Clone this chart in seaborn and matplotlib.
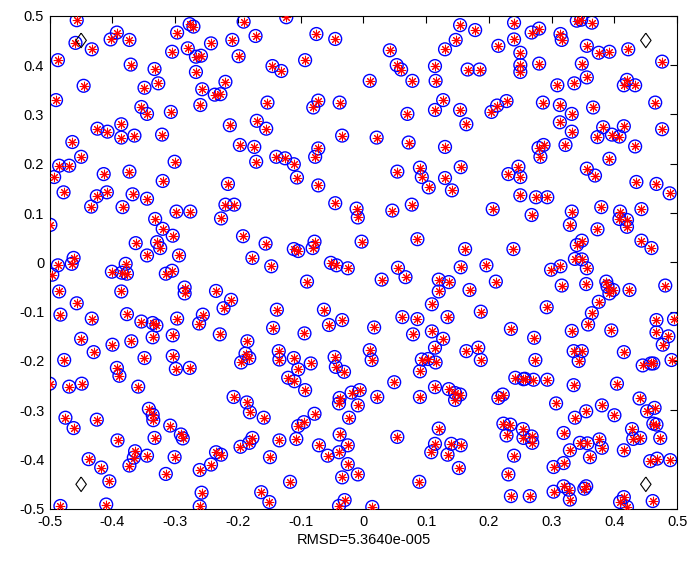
import numpy as np
import pandas as pd
import matplotlib
matplotlib.use("Agg")
import matplotlib.pyplot as plt
import seaborn as sns

sns.set_theme(style="white")
plt.rcParams['font.family'] = ['Liberation Sans', 'DejaVu Sans']

# estimated node positions (top / middle / bottom bands)
top_band = [
    (-0.457, 0.491), (-0.459, 0.445), (-0.433, 0.432), (-0.403, 0.452), (-0.393, 0.466), (-0.373, 0.451),
    (-0.487, 0.410), (-0.371, 0.401), (-0.333, 0.392), (-0.446, 0.358), (-0.349, 0.354), (-0.327, 0.363),
    (-0.490, 0.329), (-0.354, 0.315), (-0.345, 0.301), (-0.307, 0.305), (-0.424, 0.271), (-0.408, 0.265),
    (-0.386, 0.280), (-0.386, 0.253), (-0.365, 0.257), (-0.321, 0.259), (-0.464, 0.244), (-0.450, 0.214),
    (-0.485, 0.196), (-0.469, 0.196), (-0.301, 0.204), (-0.493, 0.173), (-0.414, 0.179), (-0.373, 0.184),
    (-0.320, 0.165), (-0.297, 0.466), (-0.305, 0.427), (-0.280, 0.434), (-0.277, 0.483), (-0.271, 0.478),
    (-0.267, 0.417), (-0.259, 0.419), (-0.267, 0.386), (-0.257, 0.351), (-0.260, 0.319),
    (-0.191, 0.488), (-0.123, 0.497), (-0.243, 0.444), (-0.209, 0.451), (-0.172, 0.459), (-0.075, 0.463),
    (-0.045, 0.453), (-0.199, 0.418), (-0.145, 0.398), (-0.131, 0.388), (-0.093, 0.410), (-0.220, 0.366),
    (-0.237, 0.340), (-0.228, 0.341), (-0.153, 0.324), (-0.072, 0.328), (-0.080, 0.314), (-0.038, 0.324),
    (-0.213, 0.278), (-0.170, 0.287), (-0.155, 0.271), (-0.034, 0.257), (-0.197, 0.238), (-0.174, 0.234),
    (-0.139, 0.214), (-0.125, 0.211), (-0.111, 0.199), (-0.072, 0.231), (-0.077, 0.214), (-0.171, 0.204),
    (-0.106, 0.172),
    (0.154, 0.481), (0.178, 0.471), (0.240, 0.486), (0.240, 0.452), (0.147, 0.451), (0.130, 0.432),
    (0.215, 0.439), (0.250, 0.425), (0.042, 0.430), (0.053, 0.400), (0.060, 0.391), (0.114, 0.398),
    (0.166, 0.391), (0.185, 0.391), (0.250, 0.400), (0.250, 0.386), (0.010, 0.368), (0.078, 0.368),
    (0.115, 0.368), (0.127, 0.329), (0.114, 0.309), (0.154, 0.309), (0.204, 0.305), (0.213, 0.318),
    (0.228, 0.327), (0.070, 0.301), (0.164, 0.280), (0.021, 0.253), (0.072, 0.243), (0.130, 0.234),
    (0.054, 0.184), (0.090, 0.192), (0.093, 0.173), (0.155, 0.193), (0.130, 0.171), (0.231, 0.179),
    (0.247, 0.194), (0.250, 0.173),
    (0.340, 0.490), (0.347, 0.492), (0.364, 0.486), (0.268, 0.466), (0.280, 0.474), (0.314, 0.463),
    (0.316, 0.451), (0.356, 0.439), (0.375, 0.425), (0.392, 0.427), (0.422, 0.432), (0.280, 0.403),
    (0.348, 0.403), (0.476, 0.407), (0.356, 0.375), (0.309, 0.359), (0.336, 0.363), (0.420, 0.370),
    (0.415, 0.359), (0.433, 0.359), (0.286, 0.324), (0.313, 0.319), (0.332, 0.301), (0.366, 0.314),
    (0.465, 0.324), (0.313, 0.284), (0.332, 0.265), (0.382, 0.274), (0.373, 0.254), (0.396, 0.259),
    (0.408, 0.255), (0.415, 0.276), (0.476, 0.270), (0.287, 0.238), (0.279, 0.232), (0.282, 0.214),
    (0.322, 0.238), (0.433, 0.235), (0.392, 0.210), (0.356, 0.190), (0.369, 0.176),
]

middle_band = [
    (-0.478, 0.142), (-0.434, 0.113), (-0.425, 0.134), (-0.409, 0.142), (-0.368, 0.138), (-0.345, 0.129),
    (-0.384, 0.112), (-0.499, 0.076), (-0.298, 0.103), (-0.276, 0.103), (-0.332, 0.088), (-0.320, 0.068),
    (-0.304, 0.054), (-0.363, 0.039), (-0.329, 0.041), (-0.324, 0.029), (-0.345, 0.014), (-0.294, 0.014),
    (-0.487, -0.006), (-0.462, 0.009), (-0.465, -0.003), (-0.496, -0.025), (-0.401, -0.019), (-0.379, -0.003),
    (-0.385, -0.021), (-0.377, -0.023), (-0.315, -0.023), (-0.305, -0.017), (-0.386, -0.059), (-0.485, -0.059),
    (-0.285, -0.051), (-0.285, -0.063), (-0.457, -0.083), (-0.483, -0.106), (-0.433, -0.114), (-0.377, -0.105),
    (-0.354, -0.120), (-0.336, -0.123), (-0.330, -0.128), (-0.336, -0.152), (-0.297, -0.114), (-0.262, -0.124),
    (-0.256, -0.106), (-0.304, -0.148), (-0.450, -0.155), (-0.400, -0.167), (-0.370, -0.160),
    (-0.216, 0.159), (-0.072, 0.156), (-0.220, 0.117), (-0.206, 0.117), (-0.227, 0.089), (-0.045, 0.120),
    (-0.011, 0.109), (-0.009, 0.091), (-0.192, 0.053), (-0.156, 0.038), (-0.111, 0.027), (-0.104, 0.023),
    (-0.078, 0.042), (-0.081, 0.029), (-0.003, 0.042), (-0.177, 0.009), (-0.147, -0.008), (-0.052, -0.001),
    (-0.043, -0.006), (-0.025, -0.012), (-0.090, -0.039), (-0.235, -0.058), (-0.211, -0.076), (-0.223, -0.093),
    (-0.138, -0.096), (-0.144, -0.133), (-0.063, -0.096), (-0.055, -0.127), (-0.034, -0.117), (-0.229, -0.146),
    (-0.185, -0.160), (-0.094, -0.144),
    (0.104, 0.152), (0.141, 0.146), (0.250, 0.136), (0.046, 0.105), (0.077, 0.117), (0.206, 0.108),
    (0.086, 0.047), (0.162, 0.027), (0.239, 0.027), (0.055, -0.011), (0.067, -0.030), (0.155, -0.010),
    (0.196, -0.006), (0.029, -0.035), (0.120, -0.035), (0.136, -0.040), (0.120, -0.059), (0.169, -0.056),
    (0.211, -0.039), (0.109, -0.085), (0.062, -0.111), (0.086, -0.115), (0.134, -0.111), (0.187, -0.100),
    (0.017, -0.132), (0.079, -0.146), (0.109, -0.140), (0.127, -0.155), (0.235, -0.135),
    (0.435, 0.163), (0.467, 0.159), (0.488, 0.140), (0.275, 0.132), (0.293, 0.132), (0.268, 0.096),
    (0.332, 0.103), (0.329, 0.076), (0.379, 0.112), (0.409, 0.103), (0.408, 0.088), (0.420, 0.086),
    (0.420, 0.072), (0.443, 0.108), (0.373, 0.067), (0.348, 0.044), (0.340, 0.035), (0.443, 0.044),
    (0.459, 0.029), (0.337, 0.007), (0.348, 0.006), (0.356, -0.012), (0.299, -0.015), (0.314, -0.008),
    (0.316, -0.047), (0.355, -0.044), (0.387, -0.039), (0.389, -0.049), (0.398, -0.056), (0.392, -0.063),
    (0.424, -0.056), (0.481, -0.047), (0.375, -0.080), (0.292, -0.091), (0.364, -0.103), (0.358, -0.126),
    (0.332, -0.139), (0.395, -0.138), (0.467, -0.117), (0.495, -0.115), (0.467, -0.142), (0.486, -0.150),
    (0.477, -0.167), (0.272, -0.153),
]

bottom_band = [
    (-0.430, -0.182), (-0.477, -0.198), (-0.349, -0.194), (-0.304, -0.190), (-0.299, -0.216), (-0.277, -0.214),
    (-0.393, -0.214), (-0.389, -0.230), (-0.500, -0.246), (-0.469, -0.252), (-0.449, -0.246), (-0.359, -0.252),
    (-0.342, -0.297), (-0.336, -0.309), (-0.335, -0.320), (-0.475, -0.315), (-0.462, -0.336), (-0.425, -0.319),
    (-0.308, -0.331), (-0.291, -0.349), (-0.288, -0.357), (-0.392, -0.361), (-0.333, -0.356), (-0.364, -0.383),
    (-0.366, -0.396), (-0.373, -0.412), (-0.345, -0.392), (-0.301, -0.395), (-0.438, -0.399), (-0.418, -0.416),
    (-0.315, -0.429), (-0.405, -0.444), (-0.261, -0.421), (-0.258, -0.467), (-0.483, -0.494), (-0.410, -0.491),
    (-0.261, -0.495),
    (-0.188, -0.185), (-0.182, -0.194), (-0.195, -0.203), (-0.135, -0.180), (-0.134, -0.197), (-0.111, -0.194),
    (-0.104, -0.217), (-0.084, -0.205), (-0.046, -0.192), (-0.044, -0.212), (-0.031, -0.222), (-0.120, -0.234),
    (-0.110, -0.241), (-0.093, -0.259), (-0.038, -0.275), (-0.039, -0.286), (-0.019, -0.264), (-0.006, -0.259),
    (-0.009, -0.290), (-0.207, -0.273), (-0.186, -0.284), (-0.181, -0.304), (-0.159, -0.315), (-0.078, -0.307),
    (-0.095, -0.324), (-0.104, -0.332), (-0.107, -0.358), (-0.023, -0.315), (-0.038, -0.349), (-0.177, -0.356),
    (-0.182, -0.366), (-0.196, -0.374), (-0.134, -0.361), (-0.149, -0.395), (-0.071, -0.371), (-0.057, -0.392),
    (-0.039, -0.385), (-0.025, -0.371), (-0.025, -0.409), (-0.009, -0.430), (-0.034, -0.436), (-0.235, -0.385),
    (-0.227, -0.390), (-0.243, -0.410), (-0.117, -0.445), (-0.163, -0.466), (-0.150, -0.486), (-0.030, -0.482),
    (-0.039, -0.494),
    (0.010, -0.178), (0.013, -0.198), (0.114, -0.173), (0.093, -0.197), (0.103, -0.196), (0.115, -0.203),
    (0.090, -0.221), (0.164, -0.180), (0.183, -0.173), (0.187, -0.198), (0.242, -0.234), (0.255, -0.237),
    (0.049, -0.243), (0.022, -0.273), (0.090, -0.273), (0.114, -0.253), (0.136, -0.257), (0.146, -0.265),
    (0.154, -0.268), (0.146, -0.279), (0.215, -0.275), (0.222, -0.268), (0.120, -0.337), (0.054, -0.354),
    (0.114, -0.368), (0.108, -0.385), (0.140, -0.368), (0.155, -0.371), (0.134, -0.390), (0.152, -0.417),
    (0.223, -0.327), (0.234, -0.329), (0.228, -0.351), (0.240, -0.392), (0.231, -0.430), (0.089, -0.445),
    (0.235, -0.474), (0.014, -0.496),
    (0.335, -0.180), (0.348, -0.180), (0.343, -0.200), (0.415, -0.182), (0.274, -0.198), (0.445, -0.209),
    (0.458, -0.205), (0.462, -0.205), (0.491, -0.198), (0.257, -0.236), (0.271, -0.238), (0.293, -0.238),
    (0.335, -0.249), (0.404, -0.246), (0.307, -0.286), (0.355, -0.302), (0.337, -0.315), (0.380, -0.290),
    (0.400, -0.310), (0.440, -0.276), (0.452, -0.302), (0.464, -0.295), (0.462, -0.327), (0.467, -0.329),
    (0.473, -0.356), (0.428, -0.338), (0.430, -0.358), (0.441, -0.356), (0.254, -0.338), (0.255, -0.356),
    (0.268, -0.353), (0.269, -0.366), (0.319, -0.346), (0.329, -0.381), (0.345, -0.366), (0.357, -0.367),
    (0.376, -0.359), (0.380, -0.376), (0.361, -0.395), (0.415, -0.381), (0.457, -0.403), (0.468, -0.398),
    (0.489, -0.401), (0.303, -0.415), (0.319, -0.407), (0.265, -0.474), (0.303, -0.465), (0.319, -0.454),
    (0.327, -0.461), (0.329, -0.481), (0.355, -0.454), (0.352, -0.459), (0.415, -0.476), (0.409, -0.486),
    (0.420, -0.496), (0.461, -0.484),
]

# anchor nodes (diamonds)
anchor_x = [-0.45, 0.45, -0.45, 0.45]
anchor_y = [0.45, 0.45, -0.45, -0.45]

ticks = [-0.5, -0.4, -0.3, -0.2, -0.1, 0, 0.1, 0.2, 0.3, 0.4, 0.5]
tick_labels = ["-0.5", "-0.4", "-0.3", "-0.2", "-0.1", "0", "0.1", "0.2", "0.3", "0.4", "0.5"]
rmsd_text = "RMSD=5.3640e-005"

nodes = pd.DataFrame(top_band + middle_band + bottom_band, columns=["x", "y"])
anchors = pd.DataFrame({"x": anchor_x, "y": anchor_y})

# matlab-like diamond (taller than wide)
diamond = [(0, 1), (0.72, 0), (0, -1), (-0.72, 0), (0, 1)]

fig = plt.figure(figsize=(6.91, 5.63), dpi=100)
ax = fig.add_axes([0.072, 0.096, 0.908, 0.876])

# true positions: blue circles
sns.scatterplot(data=nodes, x="x", y="y", ax=ax, marker="o", s=85,
                facecolor="none", edgecolor="#0000ff", linewidth=1.0, zorder=2)
# estimated positions: red asterisks
sns.scatterplot(data=nodes, x="x", y="y", ax=ax, marker=(8, 2, 0), s=38,
                color="#ff0000", edgecolor="#ff0000", linewidth=0.75, zorder=3)
sns.scatterplot(data=anchors, x="x", y="y", ax=ax, marker=diamond, s=110,
                facecolor="none", edgecolor="black", linewidth=0.8, zorder=4)

ax.set_xlim(-0.5, 0.5)
ax.set_ylim(-0.5, 0.5)
ax.set_xticks(ticks)
ax.set_xticklabels(tick_labels)
ax.set_yticks(ticks)
ax.set_yticklabels(tick_labels)
ax.tick_params(direction="in", length=5, width=0.8, labelsize=10.5, colors="black",
               top=True, right=True, pad=4)
for sp in ax.spines.values():
    sp.set_color("black")
    sp.set_linewidth(0.8)
ax.set_xlabel(rmsd_text, fontsize=10.5, color="black", labelpad=3)
ax.set_ylabel("")

fig.savefig("out.png", dpi=100, facecolor="white")
